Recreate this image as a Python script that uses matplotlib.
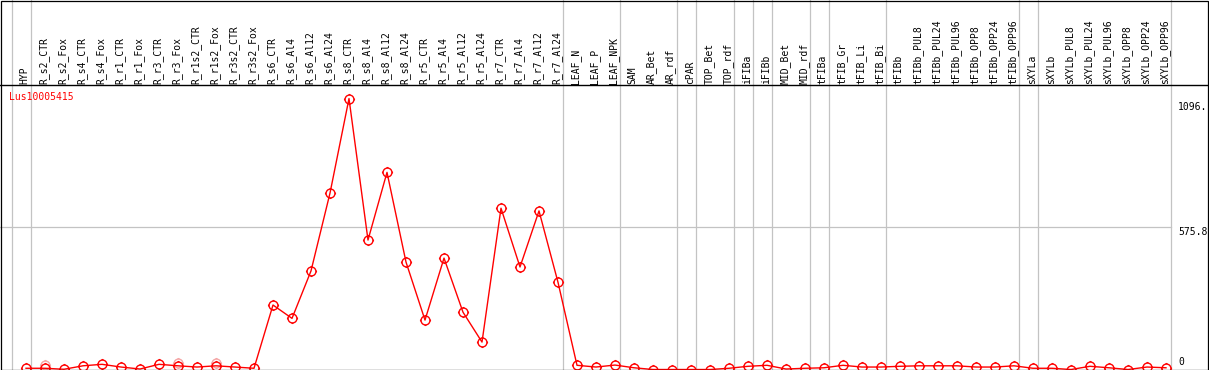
import matplotlib
matplotlib.use('Agg')
import matplotlib.pyplot as plt
from matplotlib.path import Path
from matplotlib.patches import Rectangle
import matplotlib.transforms as mtransforms

# ---------------- data ----------------
labels = ["HYP", "R_s2_CTR", "R_s2_Fox", "R_s4_CTR", "R_s4_Fox", "R_r1_CTR", "R_r1_Fox",
          "R_r3_CTR", "R_r3_Fox", "R_r1s2_CTR", "R_r1s2_Fox", "R_r3s2_CTR", "R_r3s2_Fox",
          "R_s6_CTR", "R_s6_Al4", "R_s6_Al12", "R_s6_Al24", "R_s8_CTR", "R_s8_Al4",
          "R_s8_Al12", "R_s8_Al24", "R_r5_CTR", "R_r5_Al4", "R_r5_Al12", "R_r5_Al24",
          "R_r7_CTR", "R_r7_Al4", "R_r7_Al12", "R_r7_Al24", "LEAF_N", "LEAF_P", "LEAF_NPK",
          "SAM", "AR_Bet", "AR_rdf", "cPAR", "TOP_Bet", "TOP_rdf", "iFIBa", "iFIBb",
          "MID_Bet", "MID_rdf", "tFIBa", "tFIB_Gr", "tFIB_Li", "tFIB_Bi", "tFIBb",
          "tFIBb_PUL8", "tFIBb_PUL24", "tFIBb_PUL96", "tFIBb_OPP8", "tFIBb_OPP24",
          "tFIBb_OPP96", "sXYLa", "sXYLb", "sXYLb_PUL8", "sXYLb_PUL24", "sXYLb_PUL96",
          "sXYLb_OPP8", "sXYLb_OPP24", "sXYLb_OPP96"]

values = [5, 5, 1, 15, 21, 10, 2, 21, 15, 10, 15, 10, 5,
          261, 207, 399, 714, 1096.8, 524, 798, 435, 200, 451, 232, 111, 653, 415, 642, 353,
          17, 10, 18, 7, 0, 0, 0, 0, 5, 13, 17, 2, 5, 7, 17, 10, 10, 13,
          15, 15, 15, 10, 10, 15, 5, 5, 0, 13, 7, 0, 10, 7]

rep_idx = [1, 8, 10]
rep_vals = [18, 28, 28]

group_ends = [-1, 0, 28, 31, 34, 35, 37, 38, 39, 41, 42, 45, 52, 53, 60]

gene = "Lus10005415"
ytick_vals = [1096.8, 575.8, 0]
ytick_text = ["1096.", "575.8", "0"]

# ---------------- figure ----------------
W, H = 1209, 370
fig = plt.figure(figsize=(W / 100, H / 100), dpi=100)
fig.patch.set_facecolor('white')
ax = fig.add_axes([0, 0, 1208 / W, 285 / H])
ax.set_xlim(-26 / 19, (1208 - 26) / 19)
ymax = max(values) * 1.05
ax.set_ylim(-2, ymax)
ax.set_xticks([])
ax.set_yticks([])
for s in ['left', 'right', 'bottom']:
    ax.spines[s].set_visible(False)
ax.spines['top'].set_linewidth(1.0)
ax.spines['top'].set_color('black')

mono = 'DejaVu Sans Mono'
grey = '#c3c3c3'

# group separators (through header)
for e in group_ends:
    ax.axvline(e + 0.25, ymin=0, ymax=H / 285, color=grey, lw=0.9,
               clip_on=False, zorder=0)

# mid gridline
ax.plot([ax.get_xlim()[0], 60.25], [ymax / 2, ymax / 2], color=grey, lw=0.9, zorder=0)

# custom marker: circle with short outer ticks
circ = Path.unit_circle()
t = 1.25
ticks = Path([(0, 1), (0, t), (0, -1), (0, -t), (1, 0), (t, 0), (-1, 0), (-t, 0)],
             [Path.MOVETO, Path.LINETO] * 4)
mpath = Path.make_compound_path(circ, ticks)

x = list(range(len(values)))
ax.plot(rep_idx, rep_vals, linestyle='none', marker=mpath, markersize=8.0,
        markerfacecolor='none', markeredgecolor='#f08080', markeredgewidth=1.0,
        alpha=0.7, zorder=2)
ax.plot(x, values, color='#ff0000', lw=1.0, marker=mpath, markersize=8.0,
        markerfacecolor='none', markeredgecolor='#ff0000', markeredgewidth=1.0,
        zorder=3)

# header labels
trans = mtransforms.blended_transform_factory(ax.transData, fig.transFigure)
for i, lab in enumerate(labels):
    ax.text(i - 0.06, 1 - 84 / H, lab, transform=trans, rotation=90,
            ha='center', va='bottom', fontsize=7, family=mono, color='black')

# gene label
fig.text(9 / W, 1 - 97.5 / H, gene, color='#ff0000', ha='left', va='center',
         fontsize=7, family=mono)

# right-side value labels
ypix = [107, 232, 362]
for v, txt, yp in zip(ytick_vals, ytick_text, ypix):
    fig.text(1178 / W, 1 - yp / H, txt, ha='left', va='center', fontsize=7,
             family=mono, color='black')

# outer border
fig.add_artist(Rectangle((0.5 / W, 0.5 / H), 1207 / W, 369 / H,
                         transform=fig.transFigure, fill=False, lw=0.9,
                         ec='black', zorder=10))

fig.savefig('out.png', dpi=100)
